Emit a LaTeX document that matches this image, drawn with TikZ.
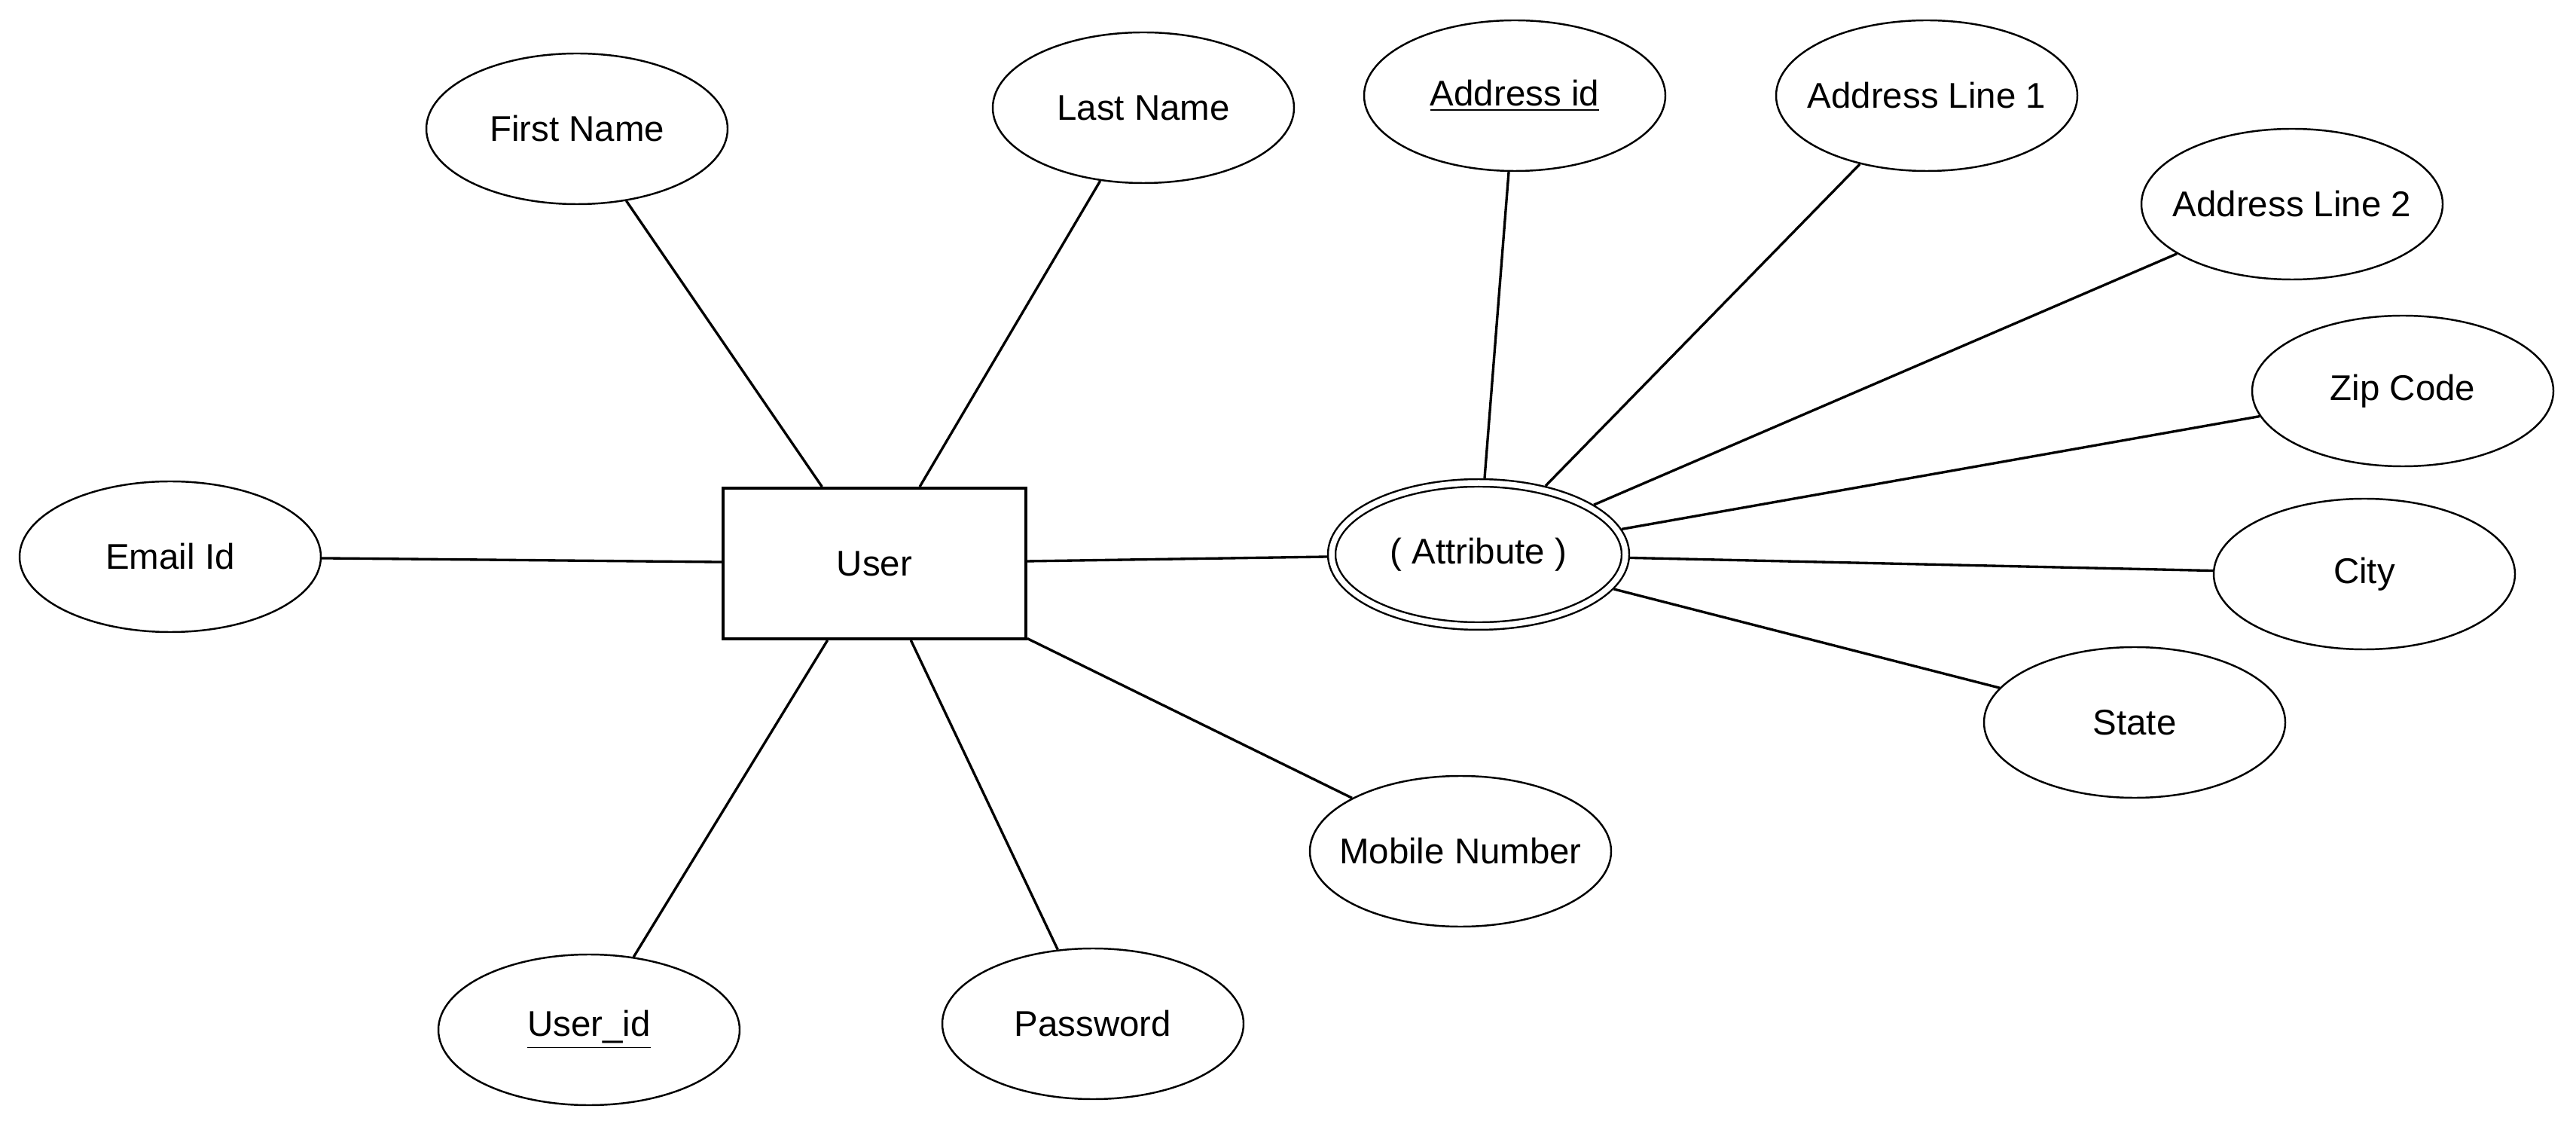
\documentclass[tikz,border=0pt]{standalone}
\usepackage{fontspec}
\setmainfont{Liberation Sans}
\usetikzlibrary{shapes.geometric}

\begin{document}
\begin{tikzpicture}[x=1cm,y=-1cm,
    attr/.style={draw, ellipse, line width=0.7pt, minimum width=4cm, minimum height=2cm,
      inner ysep=0pt, inner xsep=-0.6cm, font=\fontsize{13.5}{16}\selectfont},
    multi/.style={attr, double, double distance=0.75mm, minimum width=3.9cm,
      minimum height=1.9cm, outer sep=1.8pt},
    entity/.style={draw, rectangle, line width=1.1pt, minimum width=4.02cm, minimum height=2cm,
      font=\fontsize{13.5}{16}\selectfont},
    link/.style={line width=0.95pt}]
  \useasboundingbox (0,0) rectangle (34.2,14.96);
  % entity and its address attribute
  \node [entity] (user) at (11.61,7.48) {User};
  \node [multi] (addr) at (19.63,7.36) {( Attribute )};
  % user attributes
  \node [attr] (fname) at (7.66,1.71) {First Name};
  \node [attr] (lname) at (15.18,1.43) {Last Name};
  \node [attr] (email) at (2.26,7.39) {Email Id};
  \node [attr] (uid) at (7.82,13.67) {\underline{User\_id}};
  \node [attr] (pwd) at (14.51,13.59) {Password};
  \node [attr] (mobile) at (19.39,11.30) {Mobile Number};
  % address attributes
  \node [attr] (aid) at (20.11,1.27) {\underline{Address id}};
  \node [attr] (line1) at (25.58,1.27) {Address Line 1};
  \node [attr] (line2) at (30.43,2.71) {Address Line 2};
  \node [attr] (zip) at (31.90,5.19) {Zip Code};
  \node [attr] (city) at (31.39,7.62) {City};
  \node [attr] (state) at (28.34,9.59) {State};
  \foreach \a in {fname,lname,email,uid,pwd,mobile,addr}
    \draw [link] (user) -- (\a);
  \foreach \a in {aid,line1,line2,zip,city,state}
    \draw [link] (addr) -- (\a);
\end{tikzpicture}
\end{document}
